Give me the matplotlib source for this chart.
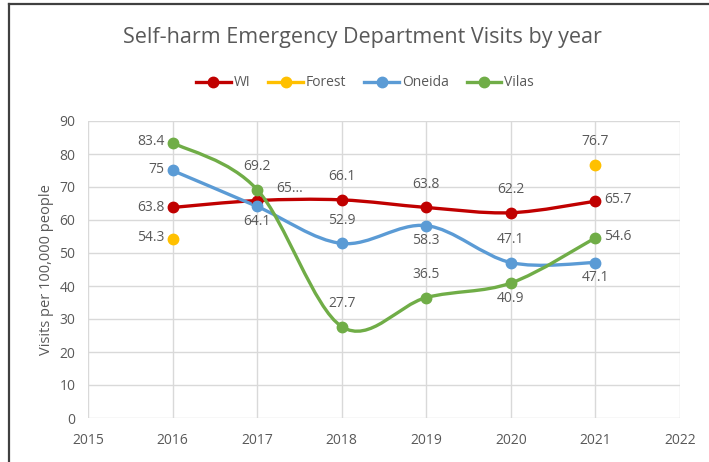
import matplotlib
matplotlib.use("Agg")
import matplotlib.pyplot as plt
from matplotlib.path import Path
from matplotlib.patches import PathPatch
from matplotlib.lines import Line2D
import numpy as np

plt.rcParams['font.family'] = ['Open Sans', 'DejaVu Sans']

years = [2016, 2017, 2018, 2019, 2020, 2021]
wi = [63.8, 65.9, 66.1, 63.8, 62.2, 65.7]
oneida = [75, 64.1, 52.9, 58.3, 47.1, 47.1]
vilas = [83.4, 69.2, 27.7, 36.5, 40.9, 54.6]
forest_years = [2016, 2021]
forest = [54.3, 76.7]

wi_labels = ["63.8", "65...", "66.1", "63.8", "62.2", "65.7"]

C_WI = "#C00000"
C_FOREST = "#FFC000"
C_ONEIDA = "#5B9BD5"
C_VILAS = "#70AD47"
TXT = "#595959"
GRID = "#D9D9D9"


def smooth_path(xs, ys):
    """Cubic Bezier path through the points (Catmull-Rom style tangents)."""
    pts = np.column_stack([xs, ys]).astype(float)
    n = len(pts)
    verts = [pts[0]]
    codes = [Path.MOVETO]
    for i in range(n - 1):
        p0 = pts[i - 1] if i > 0 else pts[i]
        p1 = pts[i]
        p2 = pts[i + 1]
        p3 = pts[i + 2] if i + 2 < n else pts[i + 1]
        c1 = p1 + (p2 - p0) / 6.0
        c2 = p2 - (p3 - p1) / 6.0
        verts += [c1, c2, p2]
        codes += [Path.CURVE4] * 3
    return Path(verts, codes)


fig = plt.figure(figsize=(7.09, 4.62), dpi=100)
ax = fig.add_axes([88 / 709, 44 / 462, 592 / 709, 297 / 462])

ax.set_xlim(2015, 2022)
ax.set_ylim(0, 90)
ax.set_xticks(range(2015, 2023))
ax.set_yticks(range(0, 91, 10))
ax.grid(True, color=GRID, linewidth=1.0)
ax.set_axisbelow(True)
for s in ax.spines.values():
    s.set_visible(False)
ax.tick_params(length=0, colors=TXT, labelsize=10)
ax.tick_params(axis='x', pad=11)
ax.tick_params(axis='y', pad=9)
ax.set_ylabel("Visits per 100,000 people", color=TXT, fontsize=10.5, labelpad=4)

lw = 2.4
ms = 7.5
for ys, c in [(wi, C_WI), (oneida, C_ONEIDA), (vilas, C_VILAS)]:
    ax.add_patch(PathPatch(smooth_path(years, ys), facecolor='none',
                           edgecolor=c, linewidth=lw, zorder=3,
                           capstyle='round'))
    ax.plot(years, ys, linestyle='none', marker='o', markersize=ms,
            color=c, zorder=4)
ax.plot(forest_years, forest, linestyle='none', marker='o', markersize=ms,
        color=C_FOREST, zorder=4)


def lab(x, y, text, dx, dy, ha='center', va='center'):
    ax.annotate(text, (x, y), xytext=(dx, dy), textcoords='offset points',
                ha=ha, va=va, fontsize=10, color=TXT, zorder=5)


UP = 16.5
DN = -11
LEFT = -6

# WI labels
wi_off = [(LEFT, 0, 'right'), (14, 9, 'left'), (0, UP, 'center'),
          (0, UP, 'center'), (0, UP, 'center'), (6, 1, 'left')]
for x, y, t, (dx, dy, ha) in zip(years, wi, wi_labels, wi_off):
    lab(x, y, t, dx, dy, ha)

# Oneida labels
on_off = [(LEFT, 1, 'right'), (0, DN, 'center'), (0, UP, 'center'),
          (0, DN, 'center'), (0, UP, 'center'), (0, DN, 'center')]
for x, y, (dx, dy, ha) in zip(years, oneida, on_off):
    lab(x, y, f"{y:g}", dx, dy, ha)

# Vilas labels
vi_off = [(LEFT, 1, 'right'), (0, UP, 'center'), (0, UP, 'center'),
          (0, UP, 'center'), (0, DN, 'center'), (6, 1, 'left')]
for x, y, (dx, dy, ha) in zip(years, vilas, vi_off):
    lab(x, y, f"{y:g}", dx, dy, ha)

# Forest labels
fo_off = [(LEFT, 1, 'right'), (0, UP, 'center')]
for x, y, (dx, dy, ha) in zip(forest_years, forest, fo_off):
    lab(x, y, f"{y:g}", dx, dy, ha)

fig.text(362 / 709, 1 - 37 / 462, "Self-harm Emergency Department Visits by year",
         ha='center', va='center', fontsize=15.5, color=TXT)

handles = [Line2D([], [], color=c, linewidth=lw, marker='o', markersize=ms)
           for c in (C_WI, C_FOREST, C_ONEIDA, C_VILAS)]
fig.legend(handles, ["WI", "Forest", "Oneida", "Vilas"], ncol=4,
           loc='center', bbox_to_anchor=(365 / 709, 1 - 83 / 462),
           frameon=False, fontsize=10, labelcolor=TXT, handlelength=2.5,
           handletextpad=0.2, columnspacing=1.3)

# chart border
fig.add_artist(Line2D([8.5 / 709, 8.5 / 709], [0, 1 - 3.5 / 462],
                      transform=fig.transFigure, color="#404040", linewidth=1.6))
fig.add_artist(Line2D([8.5 / 709, 1], [1 - 3.5 / 462, 1 - 3.5 / 462],
                      transform=fig.transFigure, color="#404040", linewidth=1.6))

fig.savefig("out.png", dpi=100, facecolor='white')
